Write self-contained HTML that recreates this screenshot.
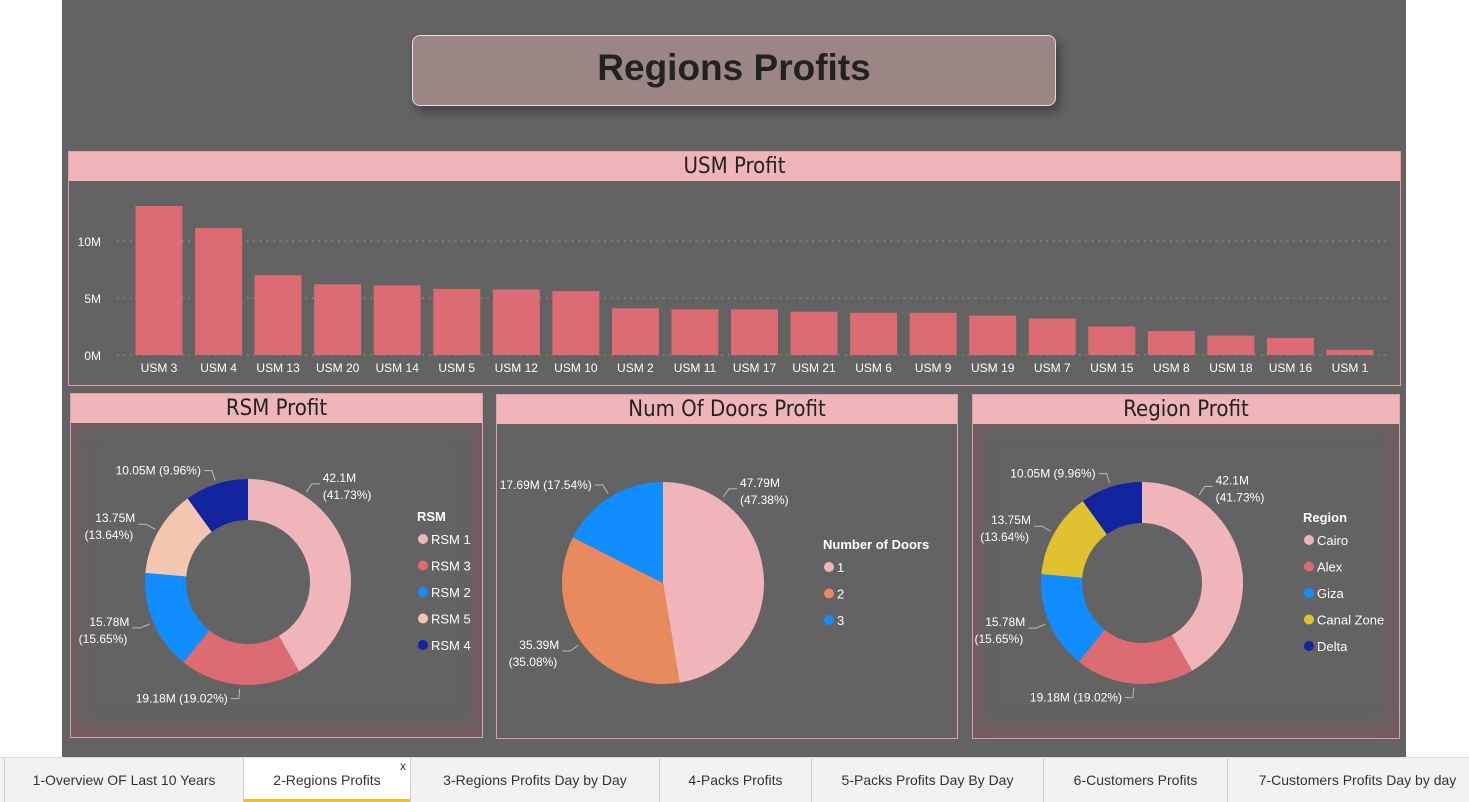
<!DOCTYPE html>
<html><head><meta charset="utf-8">
<style>
*{box-sizing:border-box;margin:0;padding:0}
body{width:1469px;height:802px;background:#fff;position:relative;overflow:hidden;font-family:"Liberation Sans",sans-serif}
#canvas{position:absolute;left:62px;top:0;width:1344px;height:757px;background:#636363}
.panel{position:absolute;border:1px solid #d9a1a6;background:#636363}
.hdr{position:absolute;left:0;top:0;right:0;height:29px;background:#efb5b9;color:#222;font-size:22px;text-align:center;line-height:30px;font-family:"DejaVu Sans Condensed","Liberation Sans",sans-serif}
.vig{position:absolute;left:0;right:0;top:29px;bottom:0;box-shadow:inset 0 -6px 22px 2px rgba(150,80,90,0.5)}
#tabs{position:absolute;left:0;top:757px;width:1469px;height:45px;background:#f3f2f1;border-top:1px solid #ddd}
.tab{position:absolute;top:0;height:44px;border-left:1px solid #d0d0d0;font-size:14px;color:#333;text-align:center;line-height:44px}
</style></head><body>
<div id="canvas"></div>
<div style="position:absolute;left:412px;top:35px;width:644px;height:71px;background:#9b8585;border:1px solid #e6dede;border-radius:8px;box-shadow:4px 6px 10px rgba(0,0,0,0.35);text-align:center;line-height:64px;font-size:37px;font-weight:bold;color:#222">Regions Profits</div>

<div class="panel" style="left:68px;top:151px;width:1333px;height:235px">
<div class="hdr">USM Profit</div>
<svg id="bars" width="1331" height="233" style="position:absolute;left:0;top:0"></svg>
</div>

<div class="panel" style="left:70px;top:393px;width:413px;height:345px">
<div class="vig"></div><div class="hdr">RSM Profit</div>
<svg id="rsm" width="411" height="343" style="position:absolute;left:0;top:0"></svg>
</div>
<div class="panel" style="left:496px;top:394px;width:462px;height:345px">
<div class="hdr">Num Of Doors Profit</div>
<svg id="doors" width="460" height="343" style="position:absolute;left:0;top:0"></svg>
</div>
<div class="panel" style="left:972px;top:394px;width:428px;height:345px">
<div class="vig"></div><div class="hdr">Region Profit</div>
<svg id="region" width="426" height="343" style="position:absolute;left:0;top:0"></svg>
</div>

<div id="tabs">
<div class="tab" style="left:4px;width:239px">1-Overview OF Last 10 Years</div>
<div class="tab" style="left:243px;width:167px;background:#fff;border-bottom:3px solid #e8c230">2-Regions Profits<span style="position:absolute;right:4px;top:-14px;font-size:12px">x</span></div>
<div class="tab" style="left:410px;width:249px">3-Regions Profits Day by Day</div>
<div class="tab" style="left:659px;width:152px">4-Packs Profits</div>
<div class="tab" style="left:811px;width:232px">5-Packs Profits Day By Day</div>
<div class="tab" style="left:1043px;width:184px">6-Customers Profits</div>
<div class="tab" style="left:1227px;width:260px">7-Customers Profits Day by day</div>
</div>

<script>
const usmCategories=["USM 3","USM 4","USM 13","USM 20","USM 14","USM 5","USM 12","USM 10","USM 2","USM 11","USM 17","USM 21","USM 6","USM 9","USM 19","USM 7","USM 15","USM 8","USM 18","USM 16","USM 1"];
const usmValues=[13.07,11.14,7.0,6.2,6.1,5.8,5.75,5.6,4.1,4.0,4.0,3.8,3.7,3.7,3.45,3.2,2.5,2.1,1.7,1.5,0.45];
const usmTicks=[0,5,10];
const usmTickLabels=["0M","5M","10M"];

const rsmLabels=["RSM 1","RSM 3","RSM 2","RSM 5","RSM 4"];
const rsmValues=[42.1,19.18,15.78,13.75,10.05];
const rsmPct=["41.73%","19.02%","15.65%","13.64%","9.96%"];
const doorLabels=["1","2","3"];
const doorValues=[47.79,35.39,17.69];
const doorPct=["47.38%","35.08%","17.54%"];
const regionLabels=["Cairo","Alex","Giza","Canal Zone","Delta"];
const regionValues=[42.1,19.18,15.78,13.75,10.05];
const regionPct=["41.73%","19.02%","15.65%","13.64%","9.96%"];

const NS="http://www.w3.org/2000/svg";
function mk(svg,tag,attrs,txt){const e=document.createElementNS(NS,tag);for(const k in attrs)e.setAttribute(k,attrs[k]);if(txt!==undefined)e.textContent=txt;svg.appendChild(e);return e;}

(function(){
 const svg=document.getElementById('bars');
 const y0=203, pxPerM=11.4, x0=90, pitch=59.55, bw=47;
 const y=v=>y0-v*pxPerM;
 usmTicks.forEach((t,i)=>{
  const l=mk(svg,'line',{x1:48,x2:1320,y1:y(t),y2:y(t),stroke:'#9a9a9a','stroke-dasharray':'1.5,5'});
  
  
  const tx=mk(svg,'text',{x:32,y:y(t)+5,'text-anchor':'end','font-size':12,fill:'#fff'},usmTickLabels[i]);
  
  
 });
 usmValues.forEach((v,i)=>{
  const cx=x0+i*pitch;
  const r=mk(svg,'rect',{x:cx-bw/2,y:y(v),width:bw,height:v*pxPerM,fill:'#dd6b73'});
  
  
  const t=mk(svg,'text',{x:cx,y:220,'text-anchor':'middle','font-size':12,fill:'#fff'},usmCategories[i]);
  
  
 });
})();

// labelAng: optional override angle (degrees clockwise from top) for the leader line
function pie(id,cx,cy,R,r,labels,values,pct,colors,legTitle,legX,legY,legStep,labelPos,labelAng){
 const svg=document.getElementById(id);
 const tot=values.reduce((a,b)=>a+b,0);
 let a=-Math.PI/2;
 values.forEach((v,i)=>{
  const a2=a+v/tot*2*Math.PI, big=(a2-a)>Math.PI?1:0;
  const p=(ang,rad)=>[cx+rad*Math.cos(ang),cy+rad*Math.sin(ang)];
  const [x1,y1]=p(a,R),[x2,y2]=p(a2,R);
  let d;
  if(r>0){const [x3,y3]=p(a2,r),[x4,y4]=p(a,r);
   d=`M${x1},${y1}A${R},${R} 0 ${big} 1 ${x2},${y2}L${x3},${y3}A${r},${r} 0 ${big} 0 ${x4},${y4}Z`;}
  else d=`M${cx},${cy}L${x1},${y1}A${R},${R} 0 ${big} 1 ${x2},${y2}Z`;
  const s=mk(svg,'path',{d:d,fill:colors[i]});
  
  
  let mid=(a+a2)/2;
  if(labelAng[i]!==null) mid=labelAng[i]*Math.PI/180-Math.PI/2;
  const [ex,ey]=p(mid,R+4), [fx,fy]=p(mid,R+14);
  const lp=labelPos[i];
  const right=Math.cos(mid)>0;
  const hx=right?fx+8:fx-8;
  mk(svg,'polyline',{points:`${ex},${ey} ${fx},${fy} ${hx},${fy}`,fill:'none',stroke:'#bbb','stroke-width':1});
  const val=values[i]+'M';
  const tx=right?hx+3:hx-3, anc=right?'start':'end';
  if(lp==='one'){
   const t=mk(svg,'text',{x:tx,y:fy+4,'text-anchor':anc,'font-size':12,fill:'#fff'},val+' ('+pct[i]+')');
   
   
  } else {
   const t=mk(svg,'text',{x:tx,y:fy-2,'text-anchor':anc,'font-size':12,fill:'#fff'},val);
   
   
   const t2=mk(svg,'text',{x:right?tx:tx-2,y:fy+15,'text-anchor':anc,'font-size':12,fill:'#fff'},'('+pct[i]+')');
   
   
  }
  a=a2;
 });
 const lt=mk(svg,'text',{x:legX,y:legY,'font-size':13,'font-weight':'bold',fill:'#fff'},legTitle);
 
 
 labels.forEach((l,i)=>{
  const yy=legY+22+i*legStep;
  const c=mk(svg,'circle',{cx:legX+6,cy:yy-4,r:5,fill:colors[i]});
  
  
  const t=mk(svg,'text',{x:legX+14,y:yy+1,'font-size':13,fill:'#fff'},l);
  
  
 });
}
const donutColors=['#efb5b9','#dd6b73','#118dff','#f4c6b0','#12239e'];
pie('rsm',177,188,103,62,rsmLabels,rsmValues,rsmPct,donutColors,'RSM',346,127,26.5,['two','one','two','two','one'],[33,null,null,null,null]);
pie('doors',166,188,101,0,doorLabels,doorValues,doorPct,['#efb5b9','#e8895e','#118dff'],'Number of Doors',326,154,26.5,['two','two','one'],[35,null,null]);
pie('region',169,188,101,60,regionLabels,regionValues,regionPct,['#efb5b9','#dd6b73','#118dff','#e0c12f','#12239e'],'Region',330,127,26.5,['two','one','two','two','one'],[33,null,null,null,null]);
</script>
</body></html>
